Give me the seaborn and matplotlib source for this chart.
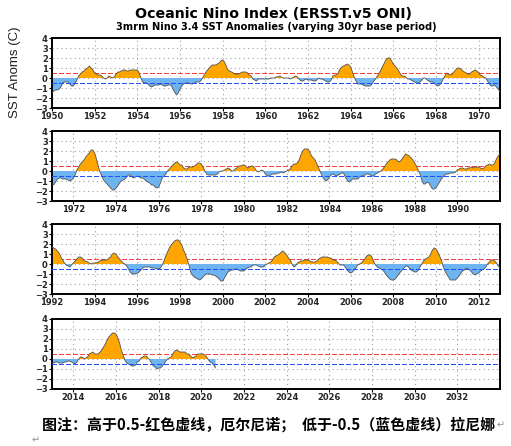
import numpy as np
import pandas as pd
import matplotlib
matplotlib.use("Agg")
import matplotlib.pyplot as plt
import seaborn as sns

sns.set_theme(style="white")
plt.rcParams['font.family'] = ['DejaVu Sans']

# ---- data: 3-month running mean Nino 3.4 anomalies, one value per month ----
oni_1950_1970 = [
    -1.5, -1.3, -1.2, -1.2, -1.1, -0.9, -0.5, -0.4, -0.4, -0.4, -0.6, -0.8,
    -0.8, -0.5, -0.2, 0.2, 0.4, 0.6, 0.7, 0.9, 1.0, 1.2, 1.0, 0.8,
    0.5, 0.4, 0.3, 0.3, 0.2, 0.0, -0.1, 0.0, 0.2, 0.1, 0.0, 0.1,
    0.4, 0.6, 0.6, 0.7, 0.8, 0.8, 0.7, 0.7, 0.8, 0.8, 0.8, 0.8,
    0.8, 0.5, 0.0, -0.4, -0.5, -0.5, -0.6, -0.8, -0.9, -0.8, -0.7, -0.7,
    -0.7, -0.6, -0.7, -0.8, -0.8, -0.7, -0.7, -0.7, -1.1, -1.4, -1.7, -1.5,
    -1.1, -0.8, -0.6, -0.5, -0.5, -0.5, -0.6, -0.6, -0.5, -0.4, -0.4, -0.4,
    -0.2, 0.1, 0.4, 0.7, 0.9, 1.1, 1.3, 1.3, 1.3, 1.4, 1.5, 1.7,
    1.8, 1.6, 1.2, 0.8, 0.7, 0.6, 0.5, 0.4, 0.4, 0.4, 0.5, 0.6,
    0.6, 0.6, 0.5, 0.3, 0.2, -0.1, -0.2, -0.3, -0.1, -0.1, -0.1, -0.1,
    -0.1, -0.1, -0.1, 0.0, 0.0, 0.0, 0.1, 0.1, 0.2, 0.1, 0.0, 0.0,
    0.0, 0.0, -0.1, 0.0, 0.1, 0.2, 0.1, -0.1, -0.3, -0.3, -0.2, -0.1,
    -0.2, -0.2, -0.2, -0.3, -0.3, -0.2, 0.0, -0.1, -0.1, -0.2, -0.3, -0.4,
    -0.4, -0.2, 0.2, 0.3, 0.3, 0.5, 0.9, 1.1, 1.2, 1.3, 1.4, 1.3,
    1.1, 0.6, 0.1, -0.3, -0.6, -0.6, -0.6, -0.7, -0.8, -0.8, -0.8, -0.8,
    -0.6, -0.3, -0.1, 0.2, 0.5, 0.8, 1.2, 1.5, 1.9, 2.0, 2.0, 1.7,
    1.4, 1.2, 1.0, 0.7, 0.4, 0.2, 0.2, 0.1, -0.1, -0.1, -0.2, -0.3,
    -0.4, -0.5, -0.5, -0.4, -0.2, 0.0, 0.0, -0.2, -0.3, -0.4, -0.4, -0.5,
    -0.7, -0.8, -0.7, -0.5, -0.1, 0.2, 0.5, 0.4, 0.3, 0.4, 0.6, 0.8,
    1.0, 1.0, 0.9, 0.7, 0.6, 0.5, 0.4, 0.4, 0.6, 0.7, 0.8, 0.7,
    0.5, 0.3, 0.2, 0.1, 0.0, -0.3, -0.6, -0.8, -0.8, -0.7, -0.9, -1.1,
]
oni_1971_1991 = [
    -1.4, -1.4, -1.1, -0.8, -0.7, -0.7, -0.8, -0.8, -0.8, -0.9, -1.0, -0.9,
    -0.7, -0.4, 0.1, 0.4, 0.7, 0.9, 1.1, 1.4, 1.6, 1.8, 2.1, 2.1,
    1.8, 1.2, 0.5, -0.1, -0.5, -0.9, -1.1, -1.3, -1.5, -1.7, -1.9, -1.9,
    -1.7, -1.5, -1.2, -1.0, -0.9, -0.8, -0.6, -0.4, -0.4, -0.6, -0.7, -0.6,
    -0.5, -0.6, -0.7, -0.7, -0.8, -1.0, -1.1, -1.2, -1.4, -1.4, -1.6, -1.7,
    -1.6, -1.2, -0.7, -0.5, -0.3, 0.0, 0.2, 0.4, 0.6, 0.8, 0.9, 0.8,
    0.6, 0.6, 0.3, 0.2, 0.2, 0.4, 0.4, 0.4, 0.5, 0.6, 0.8, 0.8,
    0.7, 0.4, 0.0, -0.3, -0.4, -0.4, -0.4, -0.4, -0.4, -0.3, -0.1, 0.0,
    0.0, 0.1, 0.2, 0.3, 0.2, 0.0, 0.0, 0.2, 0.3, 0.5, 0.5, 0.6,
    0.6, 0.5, 0.3, 0.4, 0.5, 0.5, 0.3, 0.0, -0.1, 0.0, 0.1, 0.0,
    -0.3, -0.5, -0.5, -0.4, -0.3, -0.3, -0.3, -0.2, -0.2, -0.1, -0.2, -0.1,
    0.0, 0.1, 0.2, 0.5, 0.7, 0.7, 0.8, 1.1, 1.6, 2.0, 2.2, 2.2,
    2.2, 1.9, 1.5, 1.3, 1.1, 0.7, 0.3, -0.1, -0.5, -0.8, -1.0, -0.9,
    -0.6, -0.4, -0.3, -0.4, -0.5, -0.4, -0.3, -0.2, -0.2, -0.6, -0.9, -1.1,
    -1.0, -0.8, -0.8, -0.8, -0.8, -0.6, -0.5, -0.5, -0.4, -0.3, -0.3, -0.4,
    -0.5, -0.5, -0.3, -0.2, -0.1, 0.0, 0.2, 0.4, 0.7, 0.9, 1.1, 1.2,
    1.2, 1.2, 1.1, 0.9, 1.0, 1.2, 1.5, 1.7, 1.6, 1.5, 1.3, 1.1,
    0.8, 0.5, 0.1, -0.3, -0.9, -1.3, -1.3, -1.1, -1.2, -1.5, -1.8, -1.8,
    -1.7, -1.4, -1.1, -0.8, -0.6, -0.4, -0.3, -0.3, -0.2, -0.2, -0.2, -0.1,
    0.1, 0.2, 0.3, 0.3, 0.2, 0.2, 0.3, 0.3, 0.4, 0.3, 0.4, 0.4,
    0.4, 0.3, 0.2, 0.3, 0.5, 0.6, 0.7, 0.6, 0.6, 0.8, 1.2, 1.5,
]
oni_1992_2012 = [
    1.7, 1.6, 1.5, 1.3, 1.1, 0.7, 0.4, 0.1, -0.1, -0.2, -0.3, -0.1,
    0.1, 0.3, 0.5, 0.7, 0.7, 0.6, 0.3, 0.3, 0.2, 0.1, 0.0, 0.1,
    0.1, 0.1, 0.2, 0.3, 0.4, 0.4, 0.4, 0.4, 0.6, 0.7, 1.0, 1.1,
    1.0, 0.7, 0.5, 0.3, 0.1, 0.0, -0.2, -0.5, -0.8, -1.0, -1.0, -1.0,
    -0.9, -0.8, -0.6, -0.4, -0.3, -0.3, -0.3, -0.3, -0.4, -0.4, -0.4, -0.5,
    -0.5, -0.4, -0.1, 0.3, 0.8, 1.2, 1.6, 1.9, 2.1, 2.3, 2.4, 2.4,
    2.2, 1.9, 1.4, 1.0, 0.5, -0.1, -0.8, -1.1, -1.3, -1.4, -1.5, -1.6,
    -1.5, -1.3, -1.1, -1.0, -1.0, -1.0, -1.1, -1.1, -1.2, -1.3, -1.5, -1.7,
    -1.7, -1.4, -1.1, -0.8, -0.7, -0.6, -0.6, -0.5, -0.5, -0.6, -0.7, -0.7,
    -0.7, -0.5, -0.4, -0.3, -0.3, -0.1, -0.1, -0.1, -0.2, -0.3, -0.3, -0.3,
    -0.1, 0.0, 0.1, 0.2, 0.4, 0.7, 0.8, 0.9, 1.0, 1.2, 1.3, 1.1,
    0.9, 0.6, 0.4, 0.0, -0.3, -0.2, 0.1, 0.2, 0.3, 0.3, 0.4, 0.4,
    0.4, 0.3, 0.2, 0.2, 0.2, 0.3, 0.5, 0.6, 0.7, 0.7, 0.7, 0.7,
    0.6, 0.6, 0.4, 0.4, 0.3, 0.1, -0.1, -0.1, -0.1, -0.3, -0.6, -0.8,
    -0.9, -0.8, -0.6, -0.4, -0.1, 0.0, 0.1, 0.3, 0.5, 0.8, 0.9, 0.9,
    0.7, 0.2, -0.1, -0.3, -0.4, -0.5, -0.6, -0.8, -1.1, -1.3, -1.5, -1.6,
    -1.6, -1.5, -1.3, -1.0, -0.8, -0.6, -0.4, -0.2, -0.2, -0.4, -0.6, -0.7,
    -0.8, -0.8, -0.6, -0.3, 0.0, 0.3, 0.5, 0.6, 0.7, 1.0, 1.4, 1.6,
    1.5, 1.2, 0.8, 0.4, -0.2, -0.7, -1.0, -1.3, -1.6, -1.6, -1.6, -1.6,
    -1.4, -1.2, -0.9, -0.7, -0.6, -0.4, -0.5, -0.6, -0.8, -1.0, -1.1, -1.0,
    -0.9, -0.7, -0.6, -0.5, -0.3, 0.0, 0.2, 0.4, 0.4, 0.3, 0.1, -0.2,
]
oni_2013_2020 = [
    -0.4, -0.4, -0.3, -0.3, -0.4, -0.4, -0.4, -0.3, -0.3, -0.2, -0.2, -0.3,
    -0.4, -0.5, -0.3, 0.0, 0.2, 0.2, 0.0, 0.1, 0.2, 0.5, 0.6, 0.7,
    0.5, 0.5, 0.5, 0.7, 0.9, 1.2, 1.5, 1.9, 2.2, 2.4, 2.6, 2.6,
    2.5, 2.1, 1.6, 0.9, 0.4, -0.1, -0.4, -0.5, -0.6, -0.7, -0.7, -0.6,
    -0.3, -0.2, 0.1, 0.2, 0.3, 0.3, 0.1, -0.1, -0.4, -0.7, -0.8, -1.0,
    -0.9, -0.9, -0.7, -0.5, -0.2, 0.0, 0.1, 0.2, 0.5, 0.8, 0.9, 0.8,
    0.7, 0.7, 0.7, 0.7, 0.5, 0.5, 0.3, 0.1, 0.2, 0.3, 0.5, 0.5,
    0.5, 0.5, 0.4, 0.2, -0.1, -0.3, -0.4, -0.6, -0.9,
]
start_year = 1950
panel_starts = [1950, 1971, 1992, 2013]
panel_span = 21
y_ticks = [-3, -2, -1, 0, 1, 2, 3, 4]
el_nino_threshold = 0.5
la_nina_threshold = -0.5

title = "Oceanic Nino Index (ERSST.v5 ONI)"
subtitle = "3mrm Nino 3.4 SST Anomalies (varying 30yr base period)"
ylabel = "SST Anoms (C)"
caption = "图注：高于0.5-红色虚线，厄尔尼诺；  低于-0.5（蓝色虚线）拉尼娜"

values = np.array(oni_1950_1970 + oni_1971_1991 + oni_1992_2012 + oni_2013_2020)
df = pd.DataFrame({"time": start_year + np.arange(len(values)) / 12.0, "oni": values})

ORANGE = "#FFA500"
BLUE = "#6EB4F0"

fig = plt.figure(figsize=(5.11, 4.46), dpi=100)
W, H = 511, 446
left_px, right_px = 52, 500
tops = [38, 131, 224, 319]
hpx = 70

for i, (p0, top) in enumerate(zip(panel_starts, tops)):
    ax = fig.add_axes([left_px / W, 1 - (top + hpx) / H, (right_px - left_px) / W, hpx / H])
    sub = df[(df.time >= p0 - 0.2) & (df.time <= p0 + panel_span + 0.2)]
    x = sub.time.values
    y = sub.oni.values
    ax.fill_between(x, 0, y, where=y >= 0, interpolate=True, color=ORANGE, lw=0, zorder=2)
    ax.fill_between(x, 0, y, where=y <= 0, interpolate=True, color=BLUE, lw=0, zorder=2)
    sns.lineplot(data=sub, x="time", y="oni", ax=ax, color="#505050", lw=0.6, zorder=3)
    ax.axhline(el_nino_threshold, color="#FF4040", lw=1.0, ls=(0, (3, 2)), zorder=1.5,
               antialiased=False)
    ax.axhline(la_nina_threshold, color="#2050FF", lw=1.0, ls=(0, (3, 2)), zorder=4,
               antialiased=False)
    ax.set_xlim(p0, p0 + panel_span)
    ax.set_ylim(-3, 4)
    ax.set_yticks(y_ticks)
    ax.set_yticklabels([f"{t}".replace("-", "\u2212") for t in y_ticks])
    xt = list(range(p0 + (p0 % 2), p0 + panel_span, 2))
    ax.set_xticks(xt)
    ax.set_xticklabels([str(t) for t in xt])
    ax.set_xlabel("")
    ax.set_ylabel("")
    for t in xt:
        ax.axvline(t, color="#A0A0A0", lw=0.8, ls=(0, (1, 3)), zorder=1)
    for t in y_ticks[1:-1]:
        ax.axhline(t, color="#A0A0A0", lw=0.8, ls=(0, (1, 3)), zorder=1)
    ax.tick_params(axis="both", labelsize=6, pad=1, length=2, width=0.8, color="black",
                   direction="out", left=True, bottom=True)
    for lab in ax.get_xticklabels() + ax.get_yticklabels():
        lab.set_fontweight("bold")
    for s in ax.spines.values():
        s.set_color("black")
        s.set_linewidth(1.4)
        s.set_linestyle((0, (4, 1)))
    ax.set_facecolor("white")

fig.text(273 / W, 1 - 14 / H, title, ha="center", va="center", fontsize=10.2,
         fontweight="bold", color="black")
fig.text(276 / W, 1 - 27 / H, subtitle, ha="center", va="center", fontsize=7.1,
         fontweight="bold", color="black")
fig.text(15 / W, 1 - 72 / H, ylabel, ha="center", va="center", rotation=90,
         fontsize=9.5, family=["Liberation Sans", "DejaVu Sans"], color="#202020")
fig.text(42 / W, 1 - 425 / H, caption, ha="left", va="center", fontsize=10.8,
         fontweight="bold", family=["Noto Sans CJK SC", "DejaVu Sans"], color="black")
fig.text(497 / W, 1 - 425 / H, "\u21b5", ha="left", va="center", fontsize=7,
         family=["DejaVu Sans"], color="#909090")
fig.text(32 / W, 1 - 440 / H, "\u21b5", ha="left", va="center", fontsize=7,
         family=["DejaVu Sans"], color="#909090")

fig.savefig("out.png", dpi=100)
